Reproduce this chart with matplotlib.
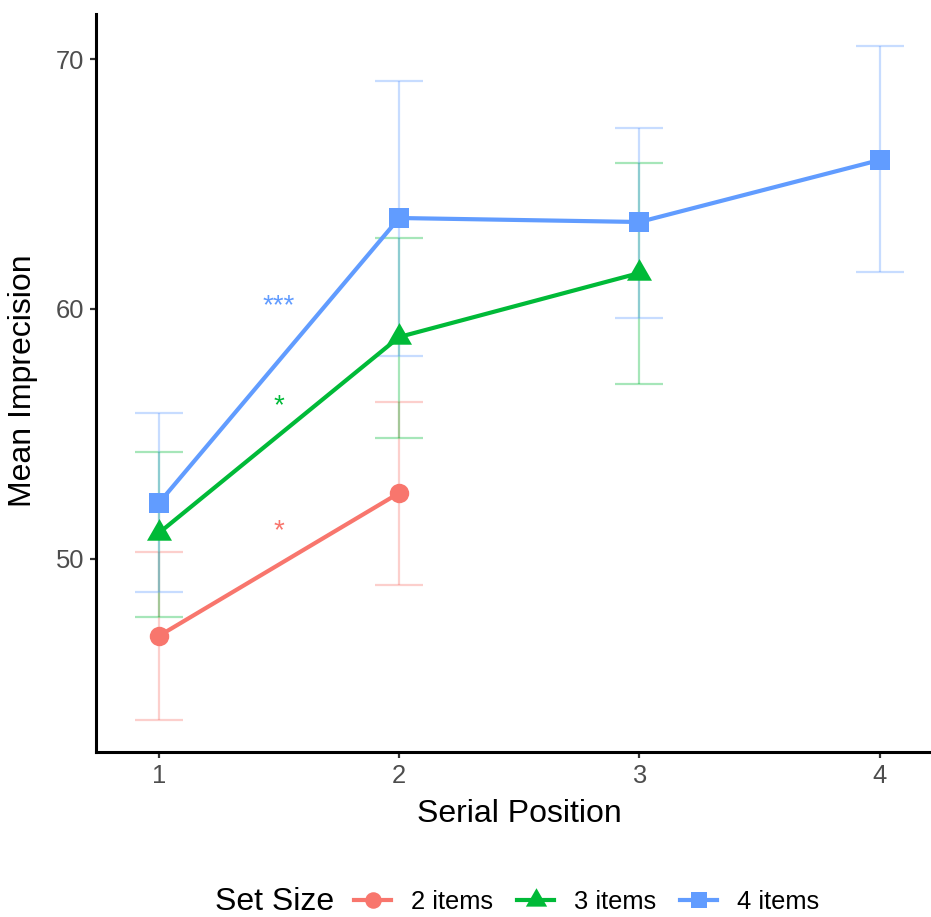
import matplotlib.pyplot as plt
from matplotlib.lines import Line2D

plt.rcParams['font.family'] = ['Liberation Sans', 'DejaVu Sans']

# mean imprecision per serial position, with upper/lower error bar ends
pos_2 = [1, 2]
mean_2 = [46.92, 52.64]
hi_2 = [50.28, 56.28]
lo_2 = [43.56, 48.96]

pos_3 = [1, 2, 3]
mean_3 = [51.04, 58.88, 61.44]
hi_3 = [54.28, 62.84, 65.84]
lo_3 = [47.68, 54.84, 57.00]

pos_4 = [1, 2, 3, 4]
mean_4 = [52.24, 63.64, 63.48, 65.96]
hi_4 = [55.84, 69.12, 67.24, 70.52]
lo_4 = [48.68, 58.12, 59.64, 61.48]

labels = ['2 items', '3 items', '4 items']
colors = ['#F8766D', '#00BA38', '#619CFF']

# equilateral triangle like ggplot's shape 17
tri = [(0, 1), (-0.866, -0.5), (0.866, -0.5)]
markers = ['o', tri, 's']
msizes = [14, 20.8, 13.7]

# significance stars between positions 1 and 2
star_text = ['*', '*', '***']
star_y = [51.1, 56.1, 60.1]

fig = plt.figure(figsize=(9.31, 9.17), dpi=100)
ax = fig.add_axes([0.1031, 0.18, 0.896, 0.8047])

series = [(pos_2, mean_2, hi_2, lo_2), (pos_3, mean_3, hi_3, lo_3), (pos_4, mean_4, hi_4, lo_4)]

for (x, m, hi, lo), c in zip(series, colors):
    yerr = [[mi - l for mi, l in zip(m, lo)], [h - mi for mi, h in zip(m, hi)]]
    ax.errorbar(x, m, yerr=yerr, fmt='none', ecolor=c, alpha=0.35,
                elinewidth=1.6, capsize=17.3, capthick=1.6, zorder=1)

for (x, m, hi, lo), c, mk, ms in zip(series, colors, markers, msizes):
    ax.plot(x, m, color=c, lw=3, zorder=2)
    ax.plot(x, m, linestyle='none', marker=mk, ms=ms, color=c, mec=c, mew=0, zorder=3)

for t, y, c in zip(star_text, star_y, colors):
    ax.text(1.5, y, t, color=c, ha='center', va='center', fontsize=20)

ax.set_xlim(0.738, 4.21)
ax.set_ylim(42.28, 71.8)
ax.set_xticks([1, 2, 3, 4])
ax.set_yticks([50, 60, 70])
ax.tick_params(axis='both', colors='#333333', labelcolor='#4D4D4D',
               labelsize=18.4, length=4.5, width=1.6, pad=4)
for s in ['top', 'right']:
    ax.spines[s].set_visible(False)
for s in ['left', 'bottom']:
    ax.spines[s].set_linewidth(2.2)
ax.set_xlabel('Serial Position', fontsize=23, va='center')
ax.set_ylabel('Mean Imprecision', fontsize=23, va='center')
ax.xaxis.set_label_coords(0.508, -0.084)
ax.yaxis.set_label_coords(-0.0875, 0.503)

handles = [Line2D([0], [0], color=c, lw=3, marker=mk, ms=ms * 0.85, mec=c, mew=0)
           for c, mk, ms in zip(colors, markers, msizes)]
fig.text(215 / 931, 1 - 902 / 917, 'Set Size', fontsize=23, va='center', ha='left')
fig.legend(handles, labels, ncol=3, frameon=False, fontsize=18.4,
           loc='center left', bbox_to_anchor=(354 / 931, 1 - 902 / 917),
           handlelength=1.45, columnspacing=0.94, handletextpad=0.78,
           borderpad=0, borderaxespad=0)

fig.savefig('out.png', dpi=100)
